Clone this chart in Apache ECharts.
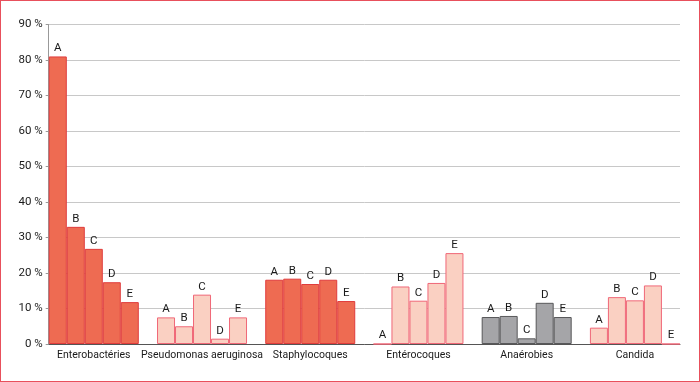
<!DOCTYPE html>
<html><head><meta charset="utf-8">
<script src="https://cdn.jsdelivr.net/npm/echarts@6/dist/echarts.min.js"></script>
<style>
html,body{margin:0;padding:0;background:#fff;}
#wrap{position:relative;width:700px;height:382px;}
#c{width:700px;height:382px;}
#frame{position:absolute;left:0;top:0;width:700px;height:382px;box-sizing:border-box;border:1.5px solid #e8505c;pointer-events:none;}
</style></head>
<body><div id="wrap"><div id="c"></div><div id="frame"></div></div>
<script>
const categories = ['Enterobactéries','Pseudomonas aeruginosa','Staphylocoques','Entérocoques','Anaérobies','Candida'];
const seriesNames = ['A','B','C','D','E'];
const valuesA = [81, 7.5, 18.1, 0, 7.6, 4.6];
const valuesB = [33, 5.0, 18.4, 16.2, 7.9, 13.2];
const valuesC = [26.8, 13.9, 16.9, 12.2, 1.6, 12.3];
const valuesD = [17.4, 1.5, 18.1, 17.2, 11.6, 16.5];
const valuesE = [11.8, 7.5, 12.1, 25.6, 7.6, 0];
const categoryKind = ['dark','light','dark','light','gray','light'];
const yTicks = [0,10,20,30,40,50,60,70,80,90];

const styles = {
  dark: {color:'#ee6b52', borderColor:'#e03c3c', borderWidth:1},
  light:{color:'#fad0c2', borderColor:'#f06878', borderWidth:1},
  gray: {color:'#a5a5a8', borderColor:'#58585a', borderWidth:1}
};
const allValues = [valuesA, valuesB, valuesC, valuesD, valuesE];
const font = 'Roboto, "Noto Sans", sans-serif';

const chart = echarts.init(document.getElementById('c'), null, {renderer:'canvas'});
const series = seriesNames.map((name, s) => ({
  name: name,
  type: 'bar',
  barWidth: 18,
  barGap: '0%',
  data: allValues[s].map((v, i) => ({value:[i, v], itemStyle: styles[categoryKind[i]]})),
  label: {show:true, position:'top', distance:2, formatter: name, color:'#1a1a1a', fontSize:11.5, fontFamily:font},
  animation:false
}));

chart.setOption({
  animation:false,
  grid:{left:48.7, right:20, top:24.5, bottom:38},
  xAxis:{
    type:'value', min:-45/108, max:5+45/108,
    splitLine:{show:false},
    axisTick:{show:false},
    axisLine:{show:true, onZero:false, lineStyle:{color:'#555', width:1}},
    axisLabel:{
      customValues:[0,1,2,3,4,5],
      formatter: v => categories[Math.round(v)],
      color:'#1a1a1a', fontSize:10.5, fontFamily:font, margin:6
    }
  },
  yAxis:{
    type:'value', min:0, max:90, interval:10,
    axisLine:{show:true, onZero:false, lineStyle:{color:'#999'}},
    axisTick:{show:true, length:3, lineStyle:{color:'#999'}},
    splitLine:{show:true, lineStyle:{color:'#c8c8c8', width:1}},
    axisLabel:{formatter: v => yTicks.includes(v) ? v + ' %' : '', color:'#1a1a1a', fontSize:11.5, fontFamily:font, margin:6}
  },
  series: series
});
</script></body></html>
